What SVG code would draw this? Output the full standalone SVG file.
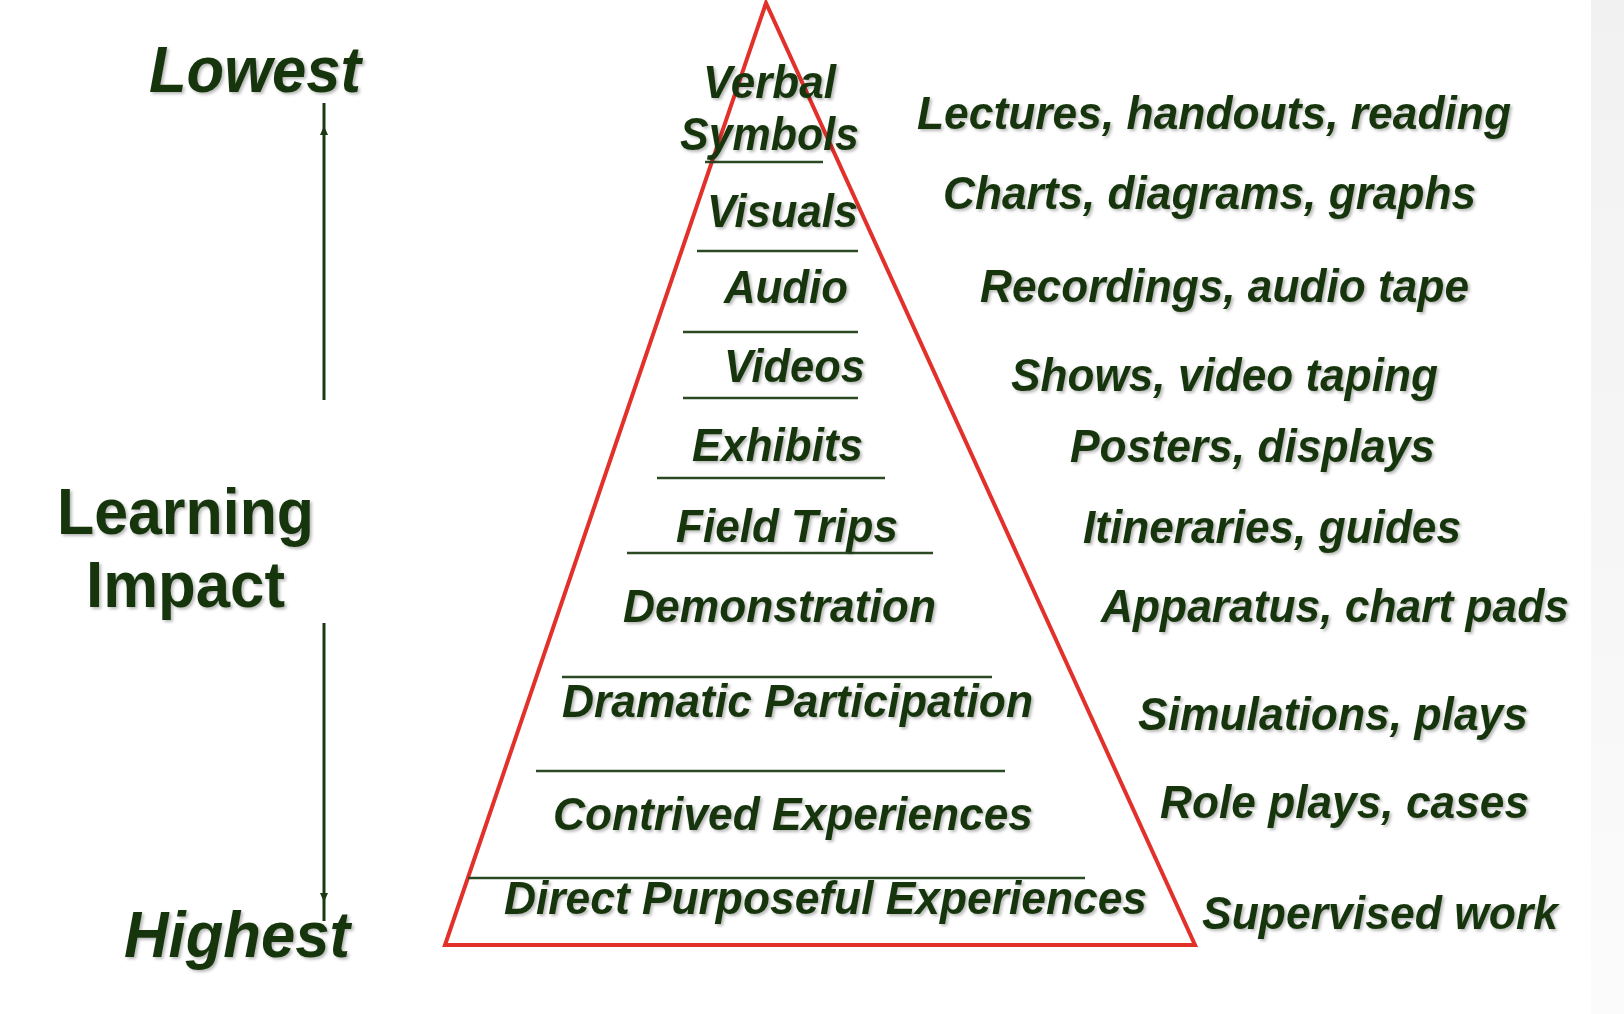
<svg xmlns="http://www.w3.org/2000/svg" width="1624" height="1014" viewBox="0 0 1624 1014">
  <defs>
    <filter id="sh" x="-5%" y="-20%" width="115%" height="150%">
      <feDropShadow dx="2" dy="2" stdDeviation="1.5" flood-color="#000" flood-opacity="0.28"/>
    </filter>
    <linearGradient id="band" x1="0" y1="0" x2="0" y2="1">
      <stop offset="0" stop-color="#f1f1f1"/>
      <stop offset="1" stop-color="#fbfbfb"/>
    </linearGradient>
  </defs>
  <style>
    text { font-family: "Liberation Sans", Arial, sans-serif; font-weight: bold; fill: #183610; filter: url(#sh); }
    .big { font-size: 64px; }
    .it { font-style: italic; }
    .lbl { font-size: 46px; font-style: italic; }
    .div { stroke: #2b4a24; stroke-width: 2.5; fill: none; }
    .axis { stroke: #1c3a12; stroke-width: 3; fill: none; }
    .tip { fill: #1c3a12; }
    .tri { stroke: #e2302b; stroke-width: 4; fill: none; stroke-linejoin: miter; }
  </style>
  <rect width="1624" height="1014" fill="#ffffff"/>
  <rect x="1591" y="0" width="33" height="1014" fill="url(#band)"/>

  <g id="pyramid">
    <path class="tri" d="M766 3 L445 945 L1195 945 Z"/>
  </g>

  <g id="connectors">
    <line class="div" x1="705" y1="162" x2="823" y2="162"/>
    <line class="div" x1="697" y1="251" x2="858" y2="251"/>
    <line class="div" x1="683" y1="332" x2="858" y2="332"/>
    <line class="div" x1="683" y1="398" x2="858" y2="398"/>
    <line class="div" x1="657" y1="478" x2="885" y2="478"/>
    <line class="div" x1="627" y1="553" x2="933" y2="553"/>
    <line class="div" x1="562" y1="677" x2="992" y2="677"/>
    <line class="div" x1="536" y1="771" x2="1005" y2="771"/>
    <line class="div" x1="468" y1="878" x2="1085" y2="878"/>
    <line class="axis" x1="324" y1="103" x2="324" y2="400"/>
    <path class="tip" d="M324 126 L328 135 L320 135 Z"/>
    <line class="axis" x1="324" y1="623" x2="324" y2="921"/>
    <path class="tip" d="M324 902 L328 893 L320 893 Z"/>
  </g>

  <g id="scale-lowest"><text class="big it" x="149" y="92" textLength="212" lengthAdjust="spacingAndGlyphs">Lowest</text></g>
  <g id="scale-title">
    <text class="big" x="57" y="534" textLength="257" lengthAdjust="spacingAndGlyphs">Learning</text>
    <text class="big" x="86" y="607" textLength="199" lengthAdjust="spacingAndGlyphs">Impact</text>
  </g>
  <g id="scale-highest"><text class="big it" x="124" y="957" textLength="226" lengthAdjust="spacingAndGlyphs">Highest</text></g>

  <g id="level-verbal">
    <text class="lbl" x="703" y="98" textLength="133" lengthAdjust="spacingAndGlyphs">Verbal</text>
    <text class="lbl" x="680" y="150" textLength="179" lengthAdjust="spacingAndGlyphs">Symbols</text>
  </g>
  <g id="level-visuals"><text class="lbl" x="707" y="227" textLength="151" lengthAdjust="spacingAndGlyphs">Visuals</text></g>
  <g id="level-audio"><text class="lbl" x="724" y="303" textLength="124" lengthAdjust="spacingAndGlyphs">Audio</text></g>
  <g id="level-videos"><text class="lbl" x="724" y="382" textLength="141" lengthAdjust="spacingAndGlyphs">Videos</text></g>
  <g id="level-exhibits"><text class="lbl" x="692" y="461" textLength="171" lengthAdjust="spacingAndGlyphs">Exhibits</text></g>
  <g id="level-fieldtrips"><text class="lbl" x="676" y="542" textLength="222" lengthAdjust="spacingAndGlyphs">Field Trips</text></g>
  <g id="level-demonstration"><text class="lbl" x="623" y="622" textLength="313" lengthAdjust="spacingAndGlyphs">Demonstration</text></g>
  <g id="level-dramatic"><text class="lbl" x="562" y="717" textLength="471" lengthAdjust="spacingAndGlyphs">Dramatic Participation</text></g>
  <g id="level-contrived"><text class="lbl" x="553" y="830" textLength="480" lengthAdjust="spacingAndGlyphs">Contrived Experiences</text></g>
  <g id="level-direct"><text class="lbl" x="504" y="914" textLength="643" lengthAdjust="spacingAndGlyphs">Direct Purposeful Experiences</text></g>

  <g id="ex-lectures"><text class="lbl" x="917" y="129" textLength="594" lengthAdjust="spacingAndGlyphs">Lectures, handouts, reading</text></g>
  <g id="ex-charts"><text class="lbl" x="943" y="209" textLength="533" lengthAdjust="spacingAndGlyphs">Charts, diagrams, graphs</text></g>
  <g id="ex-recordings"><text class="lbl" x="980" y="302" textLength="489" lengthAdjust="spacingAndGlyphs">Recordings, audio tape</text></g>
  <g id="ex-shows"><text class="lbl" x="1011" y="391" textLength="427" lengthAdjust="spacingAndGlyphs">Shows, video taping</text></g>
  <g id="ex-posters"><text class="lbl" x="1070" y="462" textLength="365" lengthAdjust="spacingAndGlyphs">Posters, displays</text></g>
  <g id="ex-itineraries"><text class="lbl" x="1083" y="543" textLength="378" lengthAdjust="spacingAndGlyphs">Itineraries, guides</text></g>
  <g id="ex-apparatus"><text class="lbl" x="1101" y="622" textLength="468" lengthAdjust="spacingAndGlyphs">Apparatus, chart pads</text></g>
  <g id="ex-simulations"><text class="lbl" x="1138" y="730" textLength="390" lengthAdjust="spacingAndGlyphs">Simulations, plays</text></g>
  <g id="ex-roleplays"><text class="lbl" x="1160" y="818" textLength="369" lengthAdjust="spacingAndGlyphs">Role plays, cases</text></g>
  <g id="ex-supervised"><text class="lbl" x="1202" y="929" textLength="356" lengthAdjust="spacingAndGlyphs">Supervised work</text></g>
</svg>
